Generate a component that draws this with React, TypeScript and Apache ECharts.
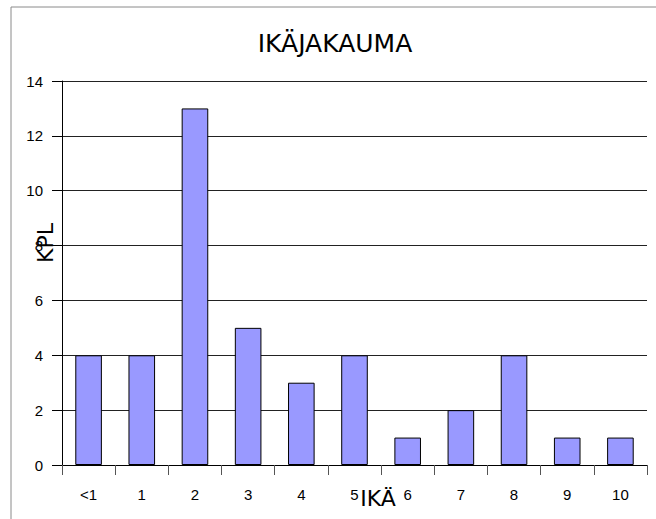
import React, { useEffect, useRef } from "react";
import * as echarts from "echarts";

const categories = ["<1", "1", "2", "3", "4", "5", "6", "7", "8", "9", "10"];
const counts = [4, 4, 13, 5, 3, 4, 1, 2, 4, 1, 1];
const titleText = "IKÄJAKAUMA";
const xName = "IKÄ";
const yName = "KPL";

export default function App() {
  const ref = useRef<HTMLDivElement>(null);
  useEffect(() => {
    document.body.style.margin = "0";
    const chart = echarts.init(ref.current!, null, { renderer: "svg" });
    chart.setOption({
      animation: false,
      backgroundColor: "#ffffff",
      grid: { left: 62, right: 9, top: 81, bottom: 54, containLabel: false },
      graphic: [
        {
          type: "rect",
          shape: { x: 11, y: 7, width: 700, height: 600 },
          style: { fill: "none", stroke: "#8a8a8a", lineWidth: 1 },
          silent: true,
        },
        {
          type: "text",
          x: 335,
          y: 43,
          style: {
            text: titleText,
            fontFamily: "DejaVu Sans",
            fontSize: 25,
            fill: "#000",
            textAlign: "center",
            textVerticalAlign: "middle",
          },
        },
        {
          type: "text",
          x: 378,
          y: 498,
          style: {
            text: xName,
            fontFamily: "DejaVu Sans",
            fontSize: 22,
            fill: "#000",
            textAlign: "center",
            textVerticalAlign: "middle",
          },
        },
        {
          type: "text",
          x: 45,
          y: 243,
          rotation: Math.PI / 2,
          style: {
            text: yName,
            fontFamily: "DejaVu Sans",
            fontSize: 22,
            fill: "#000",
            textAlign: "center",
            textVerticalAlign: "middle",
          },
        },
      ],
      xAxis: {
        type: "category",
        data: categories,
        boundaryGap: true,
        axisLine: { show: true, lineStyle: { color: "#000", width: 1 } },
        axisTick: {
          show: true,
          alignWithLabel: false,
          length: 10,
          lineStyle: { color: "#555" },
        },
        axisLabel: {
          margin: 22,
          fontSize: 15,
          fontFamily: "Liberation Sans",
          color: "#000",
          interval: 0,
        },
        splitLine: { show: false },
      },
      yAxis: {
        type: "value",
        min: 0,
        max: 14,
        interval: 2,
        axisLine: { show: true, lineStyle: { color: "#000", width: 1 } },
        axisTick: { show: true, length: 10, lineStyle: { color: "#000" } },
        axisLabel: {
          margin: 19,
          fontSize: 15,
          fontFamily: "Liberation Sans",
          color: "#000",
        },
        splitLine: { show: true, lineStyle: { color: "#222", width: 1 } },
      },
      series: [
        {
          type: "bar",
          data: counts,
          barWidth: "50%",
          itemStyle: { color: "#9999ff", borderColor: "#000", borderWidth: 1 },
        },
      ],
    });
    return () => chart.dispose();
  }, []);
  return <div ref={ref} style={{ width: 656, height: 519 }} />;
}
